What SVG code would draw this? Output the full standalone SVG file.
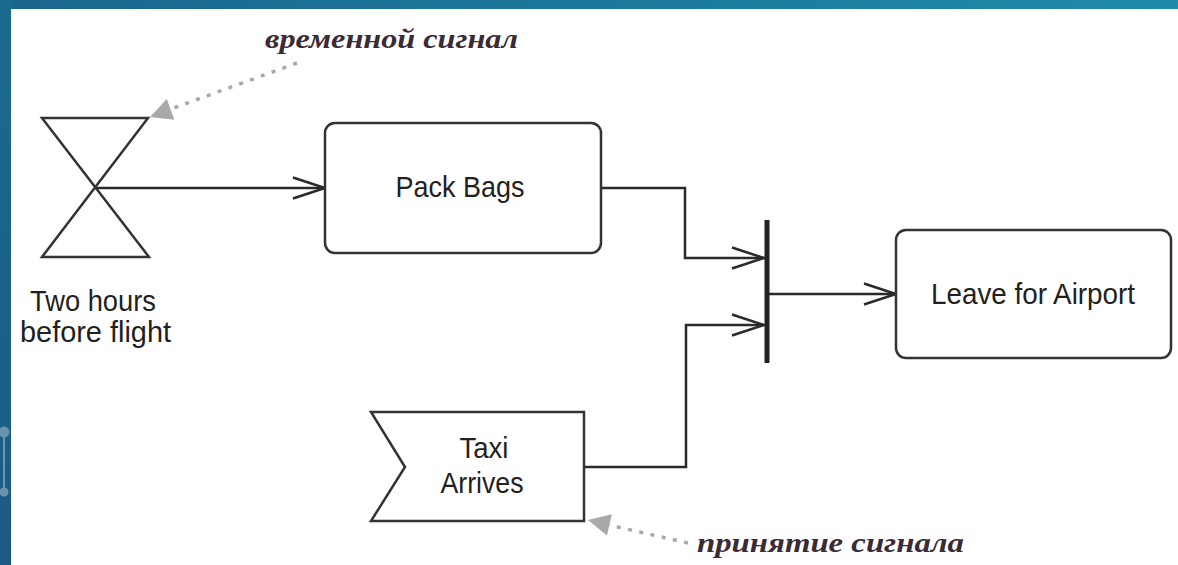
<svg xmlns="http://www.w3.org/2000/svg" width="1178" height="565" viewBox="0 0 1178 565">
  <defs>
    <linearGradient id="topBar" x1="0" y1="0" x2="1" y2="0">
      <stop offset="0" stop-color="#19668d"/>
      <stop offset="1" stop-color="#1f8ba8"/>
    </linearGradient>
    <linearGradient id="sideBar" x1="0" y1="0" x2="0" y2="1">
      <stop offset="0" stop-color="#1a6a8f"/>
      <stop offset="1" stop-color="#1c5a83"/>
    </linearGradient>
    <marker id="open" markerUnits="userSpaceOnUse" markerWidth="40" markerHeight="30" viewBox="-36 -15 40 30" refX="0" refY="0" orient="auto">
      <path d="M-32,-10.5 L0,0 L-32,10.5" fill="none" stroke="#2a2a2a" stroke-width="2.5"/>
    </marker>
    <style>
      .box { fill: #ffffff; stroke: #333333; stroke-width: 2.5; }
      .wire { fill: none; stroke: #2a2a2a; stroke-width: 2.5; marker-end: url(#open); }
      .label { font-family: "Liberation Sans", Arial, sans-serif; font-size: 30px; fill: #231f20; text-anchor: middle; }
      .note { font-family: "Liberation Serif", "Times New Roman", serif; font-size: 28px; font-style: italic; font-weight: bold; fill: #3a2b35; }
      .dots { fill: none; stroke: #a9a9a9; stroke-width: 3.5; stroke-dasharray: 4 7.5; }
      .dothead { fill: #a9a9a9; }
    </style>
  </defs>

  <!-- page frame -->
  <rect x="0" y="0" width="1178" height="565" fill="#ffffff"/>
  <rect x="0" y="0" width="1178" height="9" fill="url(#topBar)"/>
  <rect x="0" y="0" width="11" height="565" fill="url(#sideBar)"/>
  <g fill="#6b93b0" stroke="#6b93b0">
    <line x1="4" y1="432" x2="4" y2="492" stroke-width="2"/>
    <circle cx="4" cy="432" r="5.5" stroke="none"/>
    <circle cx="4" cy="492" r="4.5" stroke="none"/>
  </g>

  <!-- connectors -->
  <g id="connectors">
    <path class="wire" d="M95,188 H325"/>
    <path class="wire" d="M601,188 H685 V258 H764"/>
    <path class="wire" d="M583,467 H686 V325 H764"/>
    <path class="wire" d="M769,294 H896"/>
    <path class="dots" d="M297,63 L171,109"/>
    <polygon class="dothead" points="150,117 166.8,99.1 174.4,119.7"/>
    <path class="dots" d="M688,543 L609,525"/>
    <polygon class="dothead" points="588,520 611.9,514.2 606.9,535.6"/>
  </g>

  <!-- time event -->
  <g id="two-hours">
    <path d="M42,118 L148,118 L42,257 L149,257 Z" fill="none" stroke="#333333" stroke-width="2.5" stroke-linejoin="miter"/>
    <text class="label" x="93" y="311" textLength="126" lengthAdjust="spacingAndGlyphs">Two hours</text>
    <text class="label" x="95.5" y="342" textLength="151" lengthAdjust="spacingAndGlyphs">before flight</text>
  </g>

  <g id="pack-bags">
    <rect class="box" x="325" y="123" width="276" height="130" rx="10"/>
    <text class="label" x="460" y="197" textLength="129" lengthAdjust="spacingAndGlyphs">Pack Bags</text>
  </g>

  <g id="join">
    <line x1="767" y1="220" x2="767" y2="363" stroke="#222222" stroke-width="5"/>
  </g>

  <g id="leave-for-airport">
    <rect class="box" x="896" y="230" width="275" height="128" rx="10"/>
    <text class="label" x="1033" y="304" textLength="204" lengthAdjust="spacingAndGlyphs">Leave for Airport</text>
  </g>

  <!-- accept signal -->
  <g id="taxi-arrives">
    <path class="box" d="M371,412 H584 V521 H371 L405,467 Z"/>
    <text class="label" x="484" y="458" textLength="49" lengthAdjust="spacingAndGlyphs">Taxi</text>
    <text class="label" x="482" y="493" textLength="83" lengthAdjust="spacingAndGlyphs">Arrives</text>
  </g>

  <!-- annotations -->
  <g id="note-time">
    <text class="note" x="265" y="48" textLength="253" lengthAdjust="spacingAndGlyphs">временной сигнал</text>
  </g>
  <g id="note-accept">
    <text class="note" x="697" y="552" textLength="267" lengthAdjust="spacingAndGlyphs">принятие сигнала</text>
  </g>
</svg>
